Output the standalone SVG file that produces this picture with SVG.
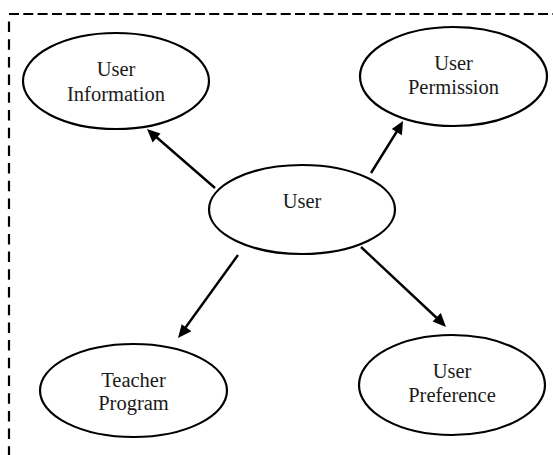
<svg xmlns="http://www.w3.org/2000/svg" width="553" height="455" viewBox="0 0 553 455">
  <style>
    .node ellipse { fill: #ffffff; stroke: #000000; stroke-width: 2.2; }
    .node text { font-family: 'Liberation Serif', 'Times New Roman', Times, serif; font-size: 20.5px; fill: #1a1a1a; text-anchor: middle; }
    .edge { stroke: #000000; stroke-width: 2.4; fill: none; }
    .head { fill: #000000; }
    .frame { stroke: #000000; stroke-width: 2.2; fill: none; }
  </style>
  <rect width="553" height="455" fill="#ffffff"/>

  <!-- dashed boundary (top and left edges visible) -->
  <g id="boundary">
    <line class="frame" x1="9" y1="14" x2="553" y2="14" stroke-dasharray="10 4.3"/>
    <line class="frame" x1="9" y1="21.5" x2="9" y2="455" stroke-dasharray="10.5 7.2"/>
  </g>

  <!-- connectors: shaft plus filled arrowhead -->
  <g id="connectors">
    <line class="edge" x1="215" y1="188" x2="154" y2="135"/>
    <path class="head" d="M147,129 L160.5,133.6 L152.6,142.6 Z"/>
    <line class="edge" x1="371" y1="173" x2="399" y2="128"/>
    <path class="head" d="M403,121 L401.9,135.3 L391.8,129 Z"/>
    <line class="edge" x1="238" y1="255" x2="183" y2="331"/>
    <path class="head" d="M178,338 L181.7,324.2 L191.4,331.2 Z"/>
    <line class="edge" x1="361" y1="247" x2="440" y2="321"/>
    <path class="head" d="M446,327 L432.6,321.6 L440.8,312.9 Z"/>
  </g>

  <g id="user" class="node">
    <ellipse cx="302" cy="209.5" rx="93" ry="44.5"/>
    <text x="302" y="208">User</text>
  </g>

  <g id="user-information" class="node">
    <ellipse cx="116" cy="81" rx="93" ry="48"/>
    <text x="116" y="76">User</text>
    <text x="116" y="101">Information</text>
  </g>

  <g id="user-permission" class="node">
    <ellipse cx="453.5" cy="76.5" rx="93.5" ry="49.5"/>
    <text x="453.5" y="70">User</text>
    <text x="453.5" y="94">Permission</text>
  </g>

  <g id="teacher-program" class="node">
    <ellipse cx="133.5" cy="390.5" rx="93.5" ry="46.5"/>
    <text x="133.5" y="386.5">Teacher</text>
    <text x="133.5" y="410">Program</text>
  </g>

  <g id="user-preference" class="node">
    <ellipse cx="452" cy="385" rx="93" ry="50"/>
    <text x="452" y="377.5">User</text>
    <text x="452" y="402">Preference</text>
  </g>
</svg>
